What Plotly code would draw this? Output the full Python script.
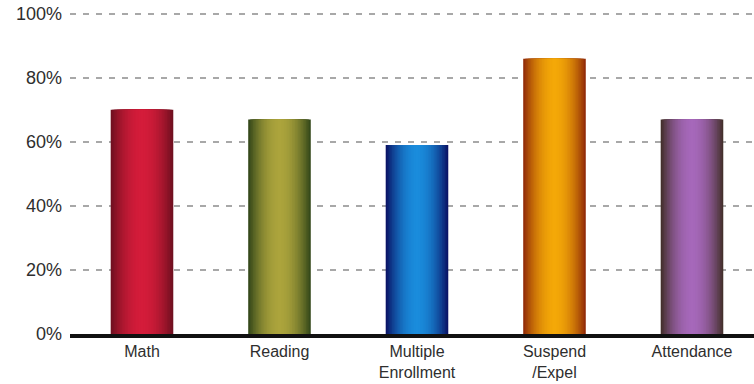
import plotly.graph_objects as go

# Share of students (percent) for each indicator
categories = ["Math", "Reading", "Multiple<br>Enrollment", "Suspend<br>/Expel", "Attendance"]
values = [70, 67, 59, 86, 67]

# Cylinder shading: dark edge colour and bright centre colour for each bar
edge_colors = ["#701020", "#34481a", "#0a1466", "#922c08", "#44302c"]
center_colors = ["#d41c3a", "#aca43c", "#1a8cdc", "#f4a808", "#a668ba"]

y_ticks = [0, 20, 40, 60, 80, 100]
y_tick_text = [f"{v}%" for v in y_ticks]

BAR_WIDTH = 0.455
LAYERS = 20


def hex_to_rgb(h):
    h = h.lstrip("#")
    return tuple(int(h[i:i + 2], 16) for i in (0, 2, 4))


def mix(c1, c2, t):
    a, b = hex_to_rgb(c1), hex_to_rgb(c2)
    return "rgb({},{},{})".format(*[round(x + (y - x) * t) for x, y in zip(a, b)])


fig = go.Figure()

# Stack progressively narrower, brighter bars to shade each column like a cylinder
for k in range(LAYERS):
    d = 1 - k / LAYERS  # relative half-width of this layer
    t = 1 - d ** 2
    fig.add_trace(go.Bar(
        x=categories,
        y=values,
        width=[BAR_WIDTH * d] * len(values),
        marker=dict(color=[mix(e, c, t) for e, c in zip(edge_colors, center_colors)],
                    line=dict(width=0)),
        hoverinfo="skip",
        showlegend=False,
    ))

fig.update_layout(
    width=754,
    height=384,
    margin=dict(l=70, r=0, t=9, b=50),
    barmode="overlay",
    plot_bgcolor="white",
    paper_bgcolor="white",
    font=dict(family="Liberation Sans, Arial, sans-serif", size=17, color="#2e2e2e"),
    xaxis=dict(
        type="category",
        range=[-0.5236, 4.451],
        automargin=False,
        showgrid=False,
        showline=True,
        linecolor="#111111",
        linewidth=4,
        ticks="",
        tickfont=dict(size=16, color="#2e2e2e"),
        ticklabelstandoff=0,
    ),
    yaxis=dict(
        range=[0, 101.5],
        automargin=False,
        tickvals=y_ticks,
        ticktext=y_tick_text,
        showgrid=True,
        gridcolor="#a8a8a8",
        gridwidth=2,
        griddash="6px,7px",
        zeroline=False,
        showline=False,
        ticks="",
        tickfont=dict(size=18, color="#2e2e2e"),
        ticklabelstandoff=7,
    ),
)

fig.write_html("out.html")
